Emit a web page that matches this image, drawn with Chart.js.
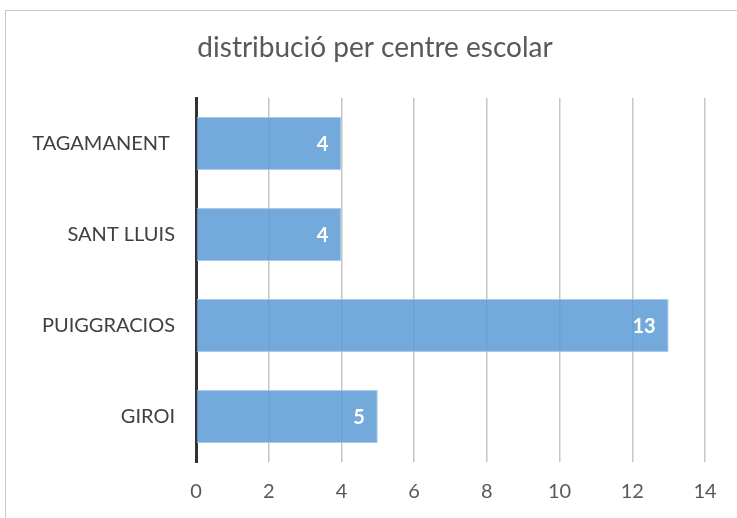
<!DOCTYPE html>
<html>
<head>
<meta charset="utf-8">
<script src="https://cdn.jsdelivr.net/npm/chart.js@4/dist/chart.umd.min.js"></script>
<style>
  body { margin: 0; background: #fff; }
  .wrap { position: relative; width: 737px; height: 518px; }
  .frame { position: absolute; left: 5px; top: 10px; width: 760px; height: 540px; border: 1px solid #c8c8c8; box-sizing: border-box; }
  canvas { position: absolute; left: 0; top: 0; }
</style>
</head>
<body>
<div class="wrap">
  <div class="frame"></div>
  <canvas id="myChart" width="737" height="518"></canvas>
</div>
<script>
// data
var centres = ["TAGAMANENT ", "SANT LLUIS", "PUIGGRACIOS", "GIROI"];
var alumnes = [4, 4, 13, 5];
var xTicks = [0, 2, 4, 6, 8, 10, 12, 14];
var titol = 'distribució per centre escolar';

// title centred on the whole frame, not just the layout box
var titlePlugin = {
  id: 'titlePlugin',
  afterDraw: function(chart) {
    var ctx = chart.ctx;
    ctx.save();
    ctx.fillStyle = '#595959';
    ctx.font = '28px Lato';
    ctx.textAlign = 'center';
    ctx.textBaseline = 'middle';
    ctx.fillText(titol, 375, 48);
    ctx.restore();
  }
};

// white bold numbers at the end of each bar
var barLabels = {
  id: 'barLabels',
  afterDatasetsDraw: function(chart) {
    var ctx = chart.ctx;
    var meta = chart.getDatasetMeta(0);
    ctx.save();
    ctx.fillStyle = '#ffffff';
    ctx.font = 'bold 20px Lato';
    ctx.textAlign = 'right';
    ctx.textBaseline = 'middle';
    meta.data.forEach(function(bar, i) {
      ctx.fillText(String(alumnes[i]), bar.x - 13, bar.y + 1);
    });
    ctx.restore();
  }
};

var ctx = document.getElementById('myChart').getContext('2d');

var chart = new Chart(ctx, {
  type: 'bar',
  data: {
    labels: centres,
    datasets: [{
      data: alumnes,
      backgroundColor: 'rgba(91,155,213,0.85)',
      borderColor: 'rgba(160,196,230,0.9)',
      borderWidth: 1,
      categoryPercentage: 1,
      barPercentage: 0.58
    }]
  },
  options: {
    responsive: false,
    animation: false,
    indexAxis: 'y',
    layout: { padding: { left: 0, right: 32, top: 98, bottom: -4 } },
    plugins: {
      legend: { display: false },
      tooltip: { enabled: false },
      title: { display: false }
    },
    scales: {
      x: {
        min: 0,
        max: 14,
        afterBuildTicks: function(scale) {
          scale.ticks = xTicks.map(function(v) { return { value: v }; });
        },
        grid: { color: '#c6c6c6', lineWidth: 1.5, drawTicks: false },
        border: { display: false },
        ticks: { color: '#595959', padding: 18, font: { family: 'Lato', size: 20 } }
      },
      y: {
        afterFit: function(scale) { scale.width = 196; },
        grid: { display: false, drawTicks: false },
        border: { display: true, color: '#333333', width: 3 },
        ticks: { color: '#404040', padding: 21, font: { family: 'Lato', size: 20 } }
      }
    }
  },
  plugins: [barLabels, titlePlugin]
});
</script>
</body>
</html>
